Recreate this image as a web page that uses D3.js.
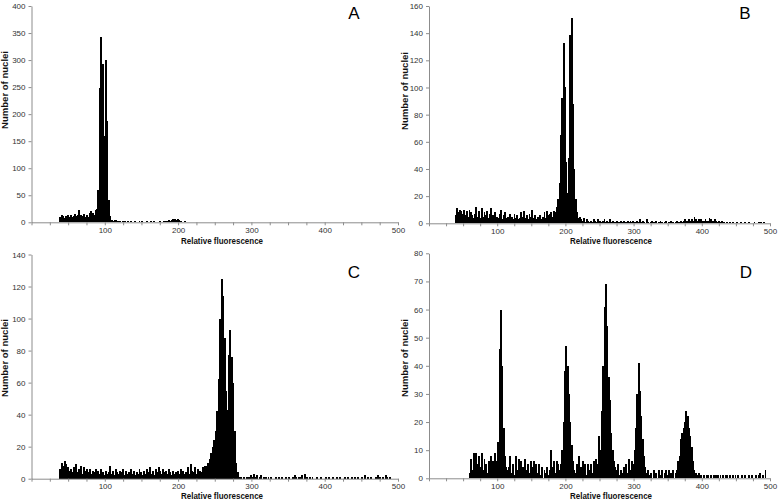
<!DOCTYPE html>
<html>
<head>
<meta charset="utf-8">
<script src="https://cdn.jsdelivr.net/npm/d3@7"></script>
<style>
  body { margin: 0; background: #fff; }
  svg { display: block; }
  .tick text { font-family: "Liberation Sans", Arial, sans-serif; font-size: 8px; fill: #333; }
  .title { font-family: "Liberation Sans", Arial, sans-serif; font-size: 9.5px; font-weight: bold; fill: #111; }
  .letter { font-family: "Liberation Sans", Arial, sans-serif; font-size: 17px; fill: #000; }
</style>
</head>
<body>
<div id="chart"></div>
<script>
// histogram counts, one value per 2-unit channel bin

const binWidth = 2;
const xTickLabels = [100, 200, 300, 400, 500];

// A: starts at 38
const startA = 38;
const countsA = [
  9,13,11,8,12,14,10,13,9,12,
  15,11,14,22,13,12,16,10,13,9,
  17,20,18,14,22,25,60,248,342,292,
  160,300,188,42,12,5,3,5,4,3,
  2,3,1,2,2,1,2,1,2,1,
  1,2,1,1,2,1,2,1,1,2,
  1,1,2,1,3,1,1,1,2,1,
  1,2,2,3,4,3,4,6,7,5,
  6,4,3,1,1,2,0,1,0,1,
  0,1,0,1,0,0,1,0,1,0,
  1,0,0,1,0,1,0,0,1,0,
  0,1,0,0,0,1,0,0,0,1,
  0,0,1,0,0,0,1,0,0,0,
  1,0,0,1,0,0,0,1,0,0,
  1,0,0,0,1,0,0,0,0,1,
  0,0,1,0,0,1,0,0,0,1,
  0,0,1,0,0,0,1,0,0,1,
  0,0,0,1,0,0,0,1,0,0,
  1,0,0,0,1,0,0,1,0,0,
  0,1,0,0,0,1,0,0,1,0,
  0,1,0,0,0,1,0,0,0,0,
  1,0,0,0,0,1,0,0,0,0,
  0,0,1,0,0,0,0
];

// B: starts at 38
const startB = 38;
const countsB = [
  6,11,8,10,9,7,10,6,9,5,
  10,8,6,4,7,12,5,9,4,11,
  5,8,6,9,4,7,11,6,3,8,
  5,4,7,10,3,6,8,4,5,2,
  7,5,3,7,4,6,3,4,8,5,
  9,4,6,3,7,5,10,4,6,3,
  5,4,6,3,5,8,4,9,6,7,
  8,5,9,8,12,18,30,65,92,133,
  100,45,22,48,139,151,88,40,18,8,
  4,5,3,2,4,1,3,2,1,2,
  1,3,2,1,3,2,2,1,2,3,
  1,2,1,3,1,2,1,1,2,1,
  1,2,1,2,1,1,2,1,2,1,
  2,1,1,2,1,3,1,2,1,0,
  3,1,0,1,2,1,0,2,0,1,
  2,1,0,1,2,0,1,0,2,1,
  0,1,2,1,1,2,1,2,3,2,
  2,3,2,3,2,5,3,2,3,2,
  3,2,2,3,2,2,4,3,2,2,
  3,2,1,2,1,2,1,1,0,1,
  0,1,0,1,0,0,1,0,0,1,
  0,0,1,0,0,1,0,0,0,1,
  0,0,1,0,1,0,1
];

// C: starts at 38
const startC = 38;
const countsC = [
  6,10,8,11,9,7,5,6,4,7,
  5,9,4,6,8,3,7,5,6,4,
  6,3,5,4,6,2,5,3,6,4,
  2,5,3,4,8,3,5,2,6,4,
  3,5,4,6,2,5,3,4,6,3,
  5,2,4,3,6,4,2,5,3,6,
  4,7,3,5,2,6,4,7,5,3,
  6,4,5,3,6,4,2,5,3,4,
  5,3,6,4,5,3,4,7,3,9,
  5,4,7,3,6,5,4,7,6,8,
  8,10,12,16,20,24,30,42,62,100,
  125,114,88,55,43,77,93,76,60,30,
  10,4,1,1,0,1,0,1,0,1,
  2,1,3,1,2,0,1,2,0,1,
  1,0,1,0,1,0,0,1,0,1,
  0,1,0,0,1,0,1,0,0,1,
  2,1,0,1,1,2,0,3,1,0,
  1,0,1,0,0,1,0,0,1,0,
  0,1,0,1,0,0,1,0,0,1,
  0,1,0,0,1,0,1,0,0,1,
  0,1,0,1,0,0,1,0,2,0,
  1,0,1,0,0,1,0,2,1,0,
  1,0,2,1,0,1,0
];

// D: starts at 58
const startD = 58;
const countsD = [
  2,7,3,9,4,9,5,8,4,9,
  3,7,5,2,6,4,8,6,5,9,
  6,13,46,60,40,18,8,4,3,4,
  8,2,5,1,8,3,7,2,6,4,
  4,7,3,5,2,6,4,6,3,5,
  2,5,1,4,0,3,2,4,1,3,
  10,4,6,2,6,5,3,5,10,20,
  38,47,40,30,20,12,6,3,2,5,
  8,1,4,6,2,5,1,5,3,5,
  2,6,4,7,5,15,10,24,40,61,
  69,54,36,28,16,10,6,4,3,5,
  1,3,2,4,1,5,2,7,3,6,
  5,10,18,30,41,31,22,14,8,4,
  2,3,1,2,0,3,1,2,0,3,
  1,3,0,2,3,1,3,0,2,3,
  0,2,3,6,8,14,16,18,20,24,
  22,18,15,11,6,3,2,1,2,1,
  1,0,1,0,1,1,0,1,0,1,
  0,1,1,0,1,0,1,0,1,1,
  0,1,0,1,0,1,0,1,0,0,
  1,0,1,0,0,1,0,1,0,0,
  1,0,1,2,0,1,0,3
];

const yTicksA = d3.range(0, 401, 50);
const yTicksB = d3.range(0, 161, 20);
const yTicksC = d3.range(0, 141, 20);
const yTicksD = d3.range(0, 81, 10);

// panel placement (pixels)
const panels = [
  { letter: "A", counts: countsA, start: startA, yTicks: yTicksA,
    x0: 31.5, x1: 398, yTop: 6, yBottom: 222.3,
    letterX: 354, letterY: 19, yTitleX: 8, yTitleY: 90, xTitleX: 222, xTitleY: 244 },
  { letter: "B", counts: countsB, start: startB, yTicks: yTicksB,
    x0: 429, x1: 770, yTop: 6, yBottom: 223.3,
    letterX: 745, letterY: 19, yTitleX: 408, yTitleY: 91, xTitleX: 611, xTitleY: 244 },
  { letter: "C", counts: countsC, start: startC, yTicks: yTicksC,
    x0: 31.5, x1: 398, yTop: 254.5, yBottom: 478.7,
    letterX: 354, letterY: 277.5, yTitleX: 8, yTitleY: 358, xTitleX: 222, xTitleY: 499 },
  { letter: "D", counts: countsD, start: startD, yTicks: yTicksD,
    x0: 429, x1: 770, yTop: 253.3, yBottom: 478.3,
    letterX: 746, letterY: 277.5, yTitleX: 408, yTitleY: 358, xTitleX: 611, xTitleY: 499 }
];

const svg = d3.select("#chart")
  .append("svg")
  .attr("width", 778)
  .attr("height", 501);

panels.forEach(p => drawPanel(p));

function drawPanel(p) {
  const g = svg.append("g");

  const x = d3.scaleLinear().domain([0, 500]).range([p.x0, p.x1]);
  const y = d3.scaleLinear().domain([0, d3.max(p.yTicks)]).range([p.yBottom, p.yTop]);

  // bars, crisp and slightly overlapping so no seams show between them
  g.append("g")
    .attr("shape-rendering", "crispEdges")
    .selectAll("rect")
    .data(p.counts)
    .join("rect")
    .attr("x", (d, i) => x(p.start + i * binWidth))
    .attr("width", x(binWidth) - x(0) + 0.5)
    .attr("y", d => y(d))
    .attr("height", d => y(0) - y(d))
    .attr("fill", "#000");

  // x axis, ticks every 25, labels at the hundreds
  const xAxis = g.append("g")
    .attr("transform", `translate(0,${p.yBottom})`)
    .call(d3.axisBottom(x)
      .tickValues(d3.range(0, 501, 25))
      .tickFormat(d => xTickLabels.includes(d) ? d : "")
      .tickSize(3)
      .tickSizeOuter(0)
      .tickPadding(2));

  const yAxis = g.append("g")
    .attr("transform", `translate(${p.x0},0)`)
    .call(d3.axisLeft(y)
      .tickValues(p.yTicks)
      .tickSize(3)
      .tickSizeOuter(0)
      .tickPadding(3));

  [xAxis, yAxis].forEach(a => {
    a.select(".domain").attr("stroke", "#8c8c8c");
    a.selectAll(".tick line").attr("stroke", "#8c8c8c");
  });

  // titles
  g.append("text")
    .attr("class", "title")
    .attr("x", p.xTitleX)
    .attr("y", p.xTitleY)
    .attr("text-anchor", "middle")
    .attr("textLength", 82)
    .attr("lengthAdjust", "spacingAndGlyphs")
    .text("Relative fluorescence");

  g.append("text")
    .attr("class", "title")
    .attr("transform", `translate(${p.yTitleX},${p.yTitleY}) rotate(-90)`)
    .attr("text-anchor", "middle")
    .attr("textLength", 78)
    .attr("lengthAdjust", "spacingAndGlyphs")
    .text("Number of nuclei");

  g.append("text")
    .attr("class", "letter")
    .attr("x", p.letterX)
    .attr("y", p.letterY)
    .attr("text-anchor", "middle")
    .text(p.letter);
}
</script>
</body>
</html>
